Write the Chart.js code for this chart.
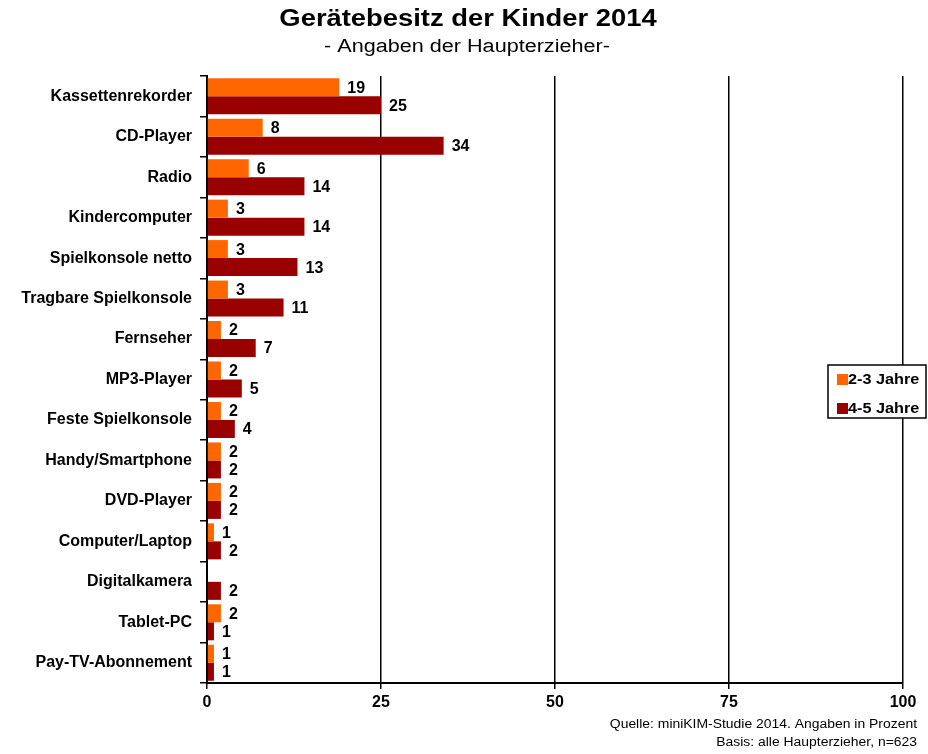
<!DOCTYPE html>
<html>
<head>
<meta charset="utf-8">
<script src="https://cdn.jsdelivr.net/npm/chart.js@4"></script>
<style>
  html, body { margin: 0; padding: 0; background: #fff; }
  #wrap { width: 928px; height: 754px; }
</style>
</head>
<body>
<div id="wrap"><canvas id="myChart" width="928" height="754"></canvas></div>
<script>
var categories = ['Kassettenrekorder', 'CD-Player', 'Radio', 'Kindercomputer',
    'Spielkonsole netto', 'Tragbare Spielkonsole', 'Fernseher', 'MP3-Player',
    'Feste Spielkonsole', 'Handy/Smartphone', 'DVD-Player', 'Computer/Laptop',
    'Digitalkamera', 'Tablet-PC', 'Pay-TV-Abonnement'];
var jahre23 = [19, 8, 6, 3, 3, 3, 2, 2, 2, 2, 2, 1, null, 2, 1];
var jahre45 = [25, 34, 14, 14, 13, 11, 7, 5, 4, 2, 2, 2, 2, 1, 1];
var xTicks = [0, 25, 50, 75, 100];

var titleText = 'Gerätebesitz der Kinder 2014';
var subtitleText = '- Angaben der Haupterzieher-';
var sourceLines = ['Quelle: miniKIM-Studie 2014. Angaben in Prozent',
    'Basis: alle Haupterzieher, n=623'];

var sans = "'Liberation Sans', Arial, sans-serif";

// text drawn a bit wider, like the original export
function wideText(ctx, text, x, y, sx) {
    ctx.save();
    ctx.translate(x, y);
    ctx.scale(sx, 1);
    ctx.fillText(text, 0, 0);
    ctx.restore();
}

// value labels next to the bars
var valueLabels = {
    id: 'valueLabels',
    afterDatasetsDraw: function(chart) {
        var ctx = chart.ctx;
        ctx.save();
        ctx.font = 'bold 16px ' + sans;
        ctx.fillStyle = '#000';
        ctx.textAlign = 'left';
        ctx.textBaseline = 'middle';
        chart.data.datasets.forEach(function(ds, i) {
            chart.getDatasetMeta(i).data.forEach(function(bar, j) {
                if (ds.data[j] == null) return;
                ctx.fillText(ds.data[j], bar.x + 8, bar.y + 1);
            });
        });
        ctx.restore();
    }
};

// titles, boxed legend and source note
var decorations = {
    id: 'decorations',
    afterDraw: function(chart) {
        var ctx = chart.ctx;
        var area = chart.chartArea;
        ctx.save();
        ctx.fillStyle = '#000';
        ctx.textAlign = 'center';
        ctx.textBaseline = 'middle';
        ctx.font = 'bold 23px ' + sans;
        wideText(ctx, titleText, 468, 20, 1.19);
        ctx.font = '18px ' + sans;
        wideText(ctx, subtitleText, 467, 47, 1.2);

        // legend
        var lx = area.right - 75, ly = area.top + 289, lw = 98, lh = 53;
        ctx.fillStyle = '#fff';
        ctx.fillRect(lx, ly, lw, lh);
        ctx.strokeStyle = '#000';
        ctx.lineWidth = 1.5;
        ctx.strokeRect(lx, ly, lw, lh);
        ctx.textAlign = 'left';
        ctx.font = 'bold 14px ' + sans;
        chart.data.datasets.forEach(function(ds, i) {
            var y = ly + 14 + i * 29;
            ctx.fillStyle = ds.backgroundColor;
            ctx.fillRect(lx + 9, y - 5, 11, 11);
            ctx.fillStyle = '#000';
            wideText(ctx, ds.label, lx + 20, y + 1, 1.16);
        });

        // source
        ctx.textAlign = 'right';
        ctx.font = '12px ' + sans;
        wideText(ctx, sourceLines[0], 917, 725, 1.16);
        wideText(ctx, sourceLines[1], 917, 743, 1.16);
        ctx.restore();
    }
};

var ctx = document.getElementById('myChart').getContext('2d');
var myChart = new Chart(ctx, {
    type: 'bar',
    data: {
        labels: categories,
        datasets: [{
            label: '2-3 Jahre',
            data: jahre23,
            backgroundColor: '#FF6600',
            barPercentage: 1,
            categoryPercentage: 0.89
        }, {
            label: '4-5 Jahre',
            data: jahre45,
            backgroundColor: '#990000',
            barPercentage: 1,
            categoryPercentage: 0.89
        }]
    },
    options: {
        indexAxis: 'y',
        responsive: false,
        animation: false,
        layout: {
            padding: { top: 76, right: 25, bottom: 41, left: 0 }
        },
        plugins: {
            legend: { display: false },
            title: { display: false },
            tooltip: { enabled: false }
        },
        scales: {
            x: {
                min: 0,
                max: 100,
                afterBuildTicks: function(scale) {
                    scale.ticks = xTicks.map(function(v) { return { value: v }; });
                },
                afterFit: function(scale) { scale.height = 30; },
                grid: {
                    color: '#000',
                    lineWidth: 1.5,
                    tickLength: 6
                },
                border: { display: true, color: '#000', width: 2 },
                ticks: {
                    color: '#000',
                    padding: 4,
                    font: { family: sans, size: 16, weight: 'bold' }
                }
            },
            y: {
                afterFit: function(scale) { scale.width = 207; },
                grid: {
                    offset: true,
                    drawOnChartArea: false,
                    color: '#000',
                    lineWidth: 1.5,
                    tickLength: 7
                },
                border: { display: true, color: '#000', width: 2 },
                ticks: {
                    color: '#000',
                    padding: 8,
                    font: { family: sans, size: 16, weight: 'bold' }
                }
            }
        }
    },
    plugins: [valueLabels, decorations]
});
</script>
</body>
</html>
